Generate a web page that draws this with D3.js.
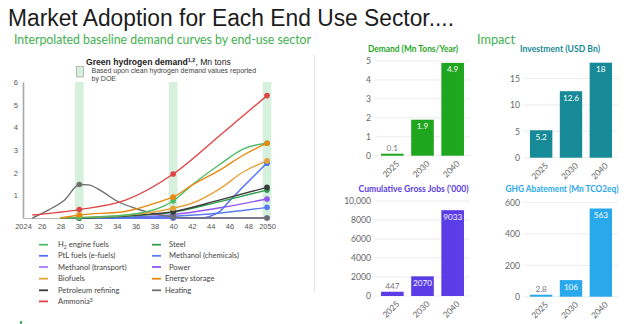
<!DOCTYPE html>
<html><head><meta charset="utf-8">
<script src="https://cdn.jsdelivr.net/npm/d3@7"></script>
<style>body{margin:0;background:#fff}svg{display:block}</style>
</head><body>
<svg id="c" width="640" height="324"></svg>
<script>
// ---------- DATA ----------
const xTickYears = [2024,2026,2028,2030,2032,2034,2036,2038,2040,2042,2044,2046,2048,2050];
const xTickLabels = ["2024","26","28","30","32","34","36","38","40","42","44","46","48","2050"];
const yTicks = [1,2,3,4,5,6];
const highlightYears = [2030,2040,2050];
const markerYears = [2030,2040,2050];

const seriesNames = ["H2 engine fuels","PtL fuels (e-fuels)","Methanol (transport)","Biofuels","Petroleum refining","Ammonia",
                     "Steel","Methanol (chemicals)","Power","Energy storage","Heating"];
const h2EngineFuels   = [[2028,0],[2030,0.02],[2035,0.13],[2039,0.52],[2040,0.75],[2042,1.45],[2045,2.37],[2047.5,3.05],[2050,3.3]];
const ptlFuels        = [[2030,0],[2040,0],[2043,0],[2044,0.08],[2045,0.3],[2046,0.75],[2048,1.6],[2050,2.42]];
const methanolTransport = [[2030,0],[2040,0],[2050,0]];
const biofuels        = [[2028,0],[2030,0.02],[2035,0.12],[2040,0.43],[2042,0.65],[2045,1.3],[2047.5,2.04],[2050,2.52]];
const petroleumRefining = [[2028,0],[2030,0],[2035,0.1],[2040,0.28],[2045,0.8],[2050,1.35]];
const ammonia         = [[2025,0.13],[2030,0.37],[2035,0.8],[2040,1.94],[2045,3.65],[2050,5.4]];
const steel           = [[2028,0],[2030,0],[2035,0.08],[2040,0.25],[2045,0.72],[2050,1.23]];
const methanolChemicals = [[2030,0],[2035,0.02],[2040,0.08],[2045,0.22],[2050,0.47]];
const power           = [[2030,0],[2035,0.04],[2040,0.15],[2045,0.45],[2050,0.84]];
const energyStorage   = [[2028,0],[2030,0.13],[2035,0.3],[2039,0.78],[2040,0.92],[2042,1.45],[2045,2.12],[2047.5,2.78],[2050,3.3]];
const heating         = [[2025,0],[2026.7,0.35],[2028.5,0.82],[2030,1.48],[2031,1.46],[2032.5,1.15],[2034,0.75],[2036,0.42],[2038,0.2],[2040,0.05],[2042,0],[2050,0]];
const seriesData = [h2EngineFuels, ptlFuels, methanolTransport, biofuels, petroleumRefining, ammonia,
                    steel, methanolChemicals, power, energyStorage, heating];
const seriesColors = ["#4cbb6a","#4f6ff0","#a77cf3","#e6a23a","#3a3a3a","#e04444",
                      "#2f9e4f","#5b7bee","#9256f2","#e8880e","#6f6f6f"];

const barYears = ["2025","2030","2040"];
const demandValues = [0.1, 1.9, 4.9];
const investmentValues = [5.2, 12.6, 18];
const jobsValues = [447, 2070, 9033];
const ghgValues = [2.8, 106, 563];
const demandTicks = [0,1,2,3,4,5];
const investmentTicks = [0,5,10,15];
const jobsTicks = [0,2000,4000,6000,8000,10000];
const jobsTickLabels = ["0","2000","4000","6000","8000","10,000"];
const ghgTicks = [0,200,400,600];

// ---------- DRAW ----------
const svg = d3.select("#c");
svg.append("rect").attr("width",640).attr("height",324).attr("fill","#fff");

svg.append("text").attr("x",8).attr("y",26)
  .attr("font-family","Liberation Sans, Arial, sans-serif").attr("font-size",23.5)
  .attr("fill","#1c1c1c").attr("textLength",446).attr("lengthAdjust","spacingAndGlyphs")
  .text("Market Adoption for Each End Use Sector....");
svg.append("text").attr("x",14).attr("y",44)
  .attr("font-family","Lato, sans-serif").attr("font-size",13.5)
  .attr("fill","#3fb04e").attr("textLength",297).attr("lengthAdjust","spacingAndGlyphs")
  .text("Interpolated baseline demand curves by end-use sector");
svg.append("text").attr("x",477).attr("y",44)
  .attr("font-family","Lato, sans-serif").attr("font-size",13.5)
  .attr("fill","#3fb04e").attr("textLength",38).attr("lengthAdjust","spacingAndGlyphs")
  .text("Impact");

// separator
svg.append("line").attr("x1",314.5).attr("x2",314.5).attr("y1",55).attr("y2",291)
  .attr("stroke","#e2e2e2").attr("stroke-width",1);

// ---------- Left line chart ----------
const x = d3.scaleLinear([2024,2050],[23,267]);
const y = d3.scaleLinear([0,6],[218,82]);
const lc = svg.append("g");

lc.selectAll("rect.band").data(highlightYears).join("rect")
  .attr("x",d=>x(d)-4.3).attr("width",8.6).attr("y",y(6)).attr("height",y(0)-y(6))
  .attr("fill","#d5f1de");

const yAxis = d3.axisLeft(y).tickValues(yTicks).tickSize(0).tickPadding(5).tickFormat(d3.format("d"));
const gy = lc.append("g").attr("transform","translate(23,0)").call(yAxis);
gy.select(".domain").attr("stroke","#a8a8a8").attr("stroke-width",1.6);
gy.selectAll("text").attr("font-family","Liberation Sans, Arial, sans-serif").attr("font-size",7.5).attr("fill","#555");

const xAxis = d3.axisBottom(x).tickValues(xTickYears).tickSize(0).tickPadding(6)
  .tickFormat((d,i)=>xTickLabels[i]);
const gx = lc.append("g").attr("transform",`translate(0,${y(0)})`).call(xAxis);
gx.select(".domain").attr("stroke","#b8b8b8").attr("stroke-width",1);
gx.selectAll("text").attr("font-family","Liberation Sans, Arial, sans-serif").attr("font-size",7.5).attr("fill","#555");

const line = d3.line().x(d=>x(d[0])).y(d=>y(d[1])).curve(d3.curveMonotoneX);
const drawOrder = [2,8,7,1,6,10,4,3,0,9,5];
drawOrder.forEach(i=>{
  lc.append("path").attr("d",line(seriesData[i])).attr("fill","none")
    .attr("stroke",seriesColors[i]).attr("stroke-width",1.4);
});
drawOrder.forEach(i=>{
  const pts = seriesData[i].filter(p=>markerYears.includes(p[0]));
  lc.selectAll(null).data(pts).join("circle")
    .attr("cx",d=>x(d[0])).attr("cy",d=>y(d[1])).attr("r",2.8).attr("fill",seriesColors[i]);
});

lc.append("rect").attr("x",76.5).attr("y",66.5).attr("width",7).attr("height",10.5)
  .attr("fill","#d5f1de").attr("stroke","#aaa").attr("stroke-width",0.8);
const tt = lc.append("text").attr("x",86).attr("y",65).attr("font-family","Liberation Sans, Arial, sans-serif")
  .attr("font-size",8.6).attr("fill","#222");
tt.append("tspan").attr("font-weight","bold").text("Green hydrogen demand");
tt.append("tspan").attr("font-weight","bold").attr("font-size",5.5).attr("dy",-3).text("1,2");
tt.append("tspan").attr("dy",3).text(", Mn tons");
lc.append("text").attr("x",91.5).attr("y",72.5).attr("font-family","Liberation Sans, Arial, sans-serif")
  .attr("font-size",7).attr("fill","#444").text("Based upon clean hydrogen demand values reported");
lc.append("text").attr("x",91.5).attr("y",80.5).attr("font-family","Liberation Sans, Arial, sans-serif")
  .attr("font-size",7).attr("fill","#444").text("by DOE");

const legRowsY = [244.7,255.8,267,278.7,290.3,301.4];
const lg = svg.append("g").attr("font-family","Lato, sans-serif").attr("font-size",7.6).attr("fill","#444");
seriesNames.forEach((n,i)=>{
  const col = i<6?0:1, row = i<6?i:i-6;
  const sx = col===0?39:152, tx = col===0?58:(row<3?169:165);
  const yy = legRowsY[row];
  lg.append("line").attr("x1",sx).attr("x2",sx+9).attr("y1",yy).attr("y2",yy)
    .attr("stroke",seriesColors[i]).attr("stroke-width",1.8);
  const t = lg.append("text").attr("x",tx).attr("y",yy+2.6);
  if(n==="H2 engine fuels"){
    t.append("tspan").text("H");
    t.append("tspan").attr("font-size",5).attr("dy",1.5).text("2");
    t.append("tspan").attr("dy",-1.5).text(" engine fuels");
  } else if(n==="Ammonia"){
    t.append("tspan").text("Ammonia");
    t.append("tspan").attr("font-size",5).attr("dy",-2.5).text("3");
  } else t.text(n);
});
svg.append("circle").attr("cx",21).attr("cy",322.5).attr("r",1.2).attr("fill","#1a9a3a");

// ---------- Bar charts ----------
function barChart(o){
  const g = svg.append("g");
  const xs = d3.scaleBand().domain(barYears).range([o.x0,o.x1]).paddingInner(0.25).paddingOuter(0.2);
  const ys = d3.scaleLinear([0,o.max],[o.y0,o.y1]);
  g.selectAll("line.grid").data(o.ticks).join("line")
    .attr("x1",o.x0).attr("x2",o.x1).attr("y1",d=>ys(d)).attr("y2",d=>ys(d))
    .attr("stroke","#ececec").attr("stroke-width",1);
  const ax = d3.axisLeft(ys).tickValues(o.ticks).tickSize(0).tickPadding(4)
    .tickFormat((d,i)=>o.tickLabels?o.tickLabels[i]:d3.format("d")(d));
  const ga = g.append("g").attr("transform",`translate(${o.x0},0)`).call(ax);
  ga.select(".domain").remove();
  ga.selectAll("text").attr("font-family","Lato, sans-serif").attr("font-size",8.6).attr("fill","#666");
  g.selectAll("rect.bar").data(o.values).join("rect")
    .attr("x",(d,i)=>xs(barYears[i])).attr("width",xs.bandwidth())
    .attr("y",d=>Math.min(ys(d),o.y0-2)).attr("height",d=>Math.max(o.y0-ys(d),2))
    .attr("fill",o.color);
  g.selectAll("text.val").data(o.values).join("text")
    .attr("x",(d,i)=>xs(barYears[i])+xs.bandwidth()/2)
    .attr("y",d=>{const h=o.y0-ys(d); return h>14?ys(d)+9.5:Math.min(ys(d),o.y0-2)-3;})
    .attr("text-anchor","middle").attr("font-family","Lato, sans-serif").attr("font-size",8.2)
    .attr("fill",d=>(o.y0-ys(d))>14?"#fff":"#777")
    .text((d,i)=>o.labels[i]);
  g.selectAll("text.xl").data(barYears).join("text")
    .attr("transform",d=>`translate(${xs(d)+xs.bandwidth()/2+4},${o.y0+5}) rotate(-45)`)
    .attr("text-anchor","end").attr("dy","0.6em").attr("font-family","Lato, sans-serif").attr("font-size",8.4)
    .attr("fill","#666").text(d=>d);
  g.append("text").attr("x",o.tx).attr("y",o.ty).attr("text-anchor","middle")
    .attr("font-family","Lato, sans-serif").attr("font-weight","bold").attr("font-size",8.6)
    .attr("fill",o.color).attr("textLength",o.tw).attr("lengthAdjust","spacingAndGlyphs").text(o.title);
}
barChart({x0:375,x1:470,y0:155.7,y1:61,max:5,ticks:demandTicks,values:demandValues,labels:["0.1","1.9","4.9"],
  color:"#1fa61f",title:"Demand (Mn Tons/Year)",tx:413,ty:52,tw:90});
barChart({x0:524,x1:618,y0:157.7,y1:62.7,max:18,ticks:investmentTicks,values:investmentValues,labels:["5.2","12.6","18"],
  color:"#178a97",title:"Investment (USD Bn)",tx:560,ty:52,tw:80});
barChart({x0:375,x1:470,y0:296,y1:201,max:10000,ticks:jobsTicks,tickLabels:jobsTickLabels,values:jobsValues,labels:["447","2070","9033"],
  color:"#5a3de6",title:"Cumulative Gross Jobs ('000)",tx:413.5,ty:192,tw:110});
barChart({x0:524,x1:618,y0:296.7,y1:202.7,max:600,ticks:ghgTicks,values:ghgValues,labels:["2.8","106","563"],
  color:"#2aa8ec",title:"GHG Abatement (Mn TCO2eq)",tx:562,ty:192,tw:113});
</script>
</body></html>
